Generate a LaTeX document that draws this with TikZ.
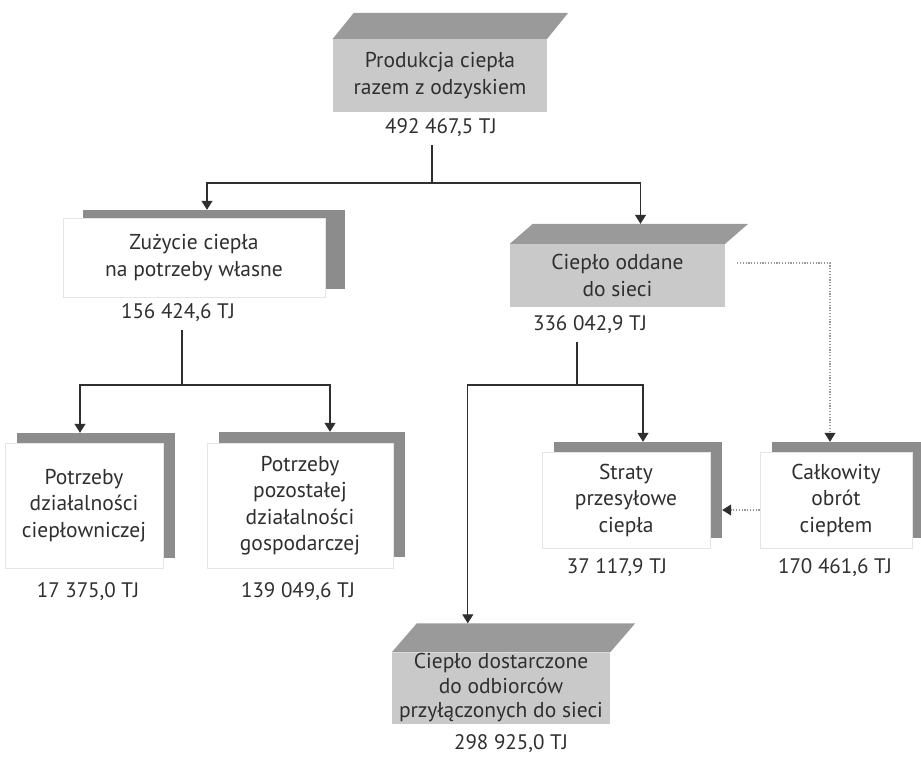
\documentclass[tikz,border=0pt]{standalone}
\usepackage{fontspec}
\setmainfont{PT Sans}
\usetikzlibrary{arrows.meta,calc}
\definecolor{frontgray}{HTML}{C9C9C9}
\definecolor{topgray}{HTML}{9A9A9A}
\definecolor{bargray}{HTML}{8C8C8C}
\definecolor{txt}{HTML}{2F2F2F}
\begin{document}
\begin{tikzpicture}[x=1pt,y=-1pt,
  every node/.style={font=\fontsize{21.5}{26.5}\selectfont, text=txt},
  solidbox/.style={fill=frontgray, inner sep=0pt, align=center},
  whitebox/.style={fill=white, draw=black!10, line width=0.8pt, inner sep=0pt, align=center},
  barbox/.style={fill=bargray, inner sep=0pt},
  value/.style={inner sep=0pt, font=\fontsize{21}{26}\selectfont},
  link/.style={draw=txt, line width=1.1pt},
  arr/.style={link, -{Triangle[width=11pt,length=9pt]}},
  dotarr/.style={draw=gray!80, line width=1.1pt, dash pattern=on 1.2pt off 1.6pt, -{Triangle[width=11pt,length=9pt,fill=txt,color=txt]}}]
\useasboundingbox (0,0) rectangle (921,762);

% ---- 3D boxes ----
\node[solidbox, minimum width=214pt, minimum height=73pt] (B0) at (440,75.5) {Produkcja ciepła\\razem z odzyskiem};
\fill[topgray] (B0.north west) -- (B0.north east) -- ++(21,-26) coordinate (B0tr) -- ($(B0.north west)+(21,-26)$) coordinate (B0tl) -- cycle;

\node[solidbox, minimum width=215pt, minimum height=63pt] (B2) at (617.5,275.5) {Ciepło oddane\\do sieci};
\fill[topgray] (B2.north west) -- (B2.north east) -- ++(23,-20) coordinate (B2tr) -- ($(B2.north west)+(23,-20)$) coordinate (B2tl) -- cycle;

\node[solidbox, minimum width=218pt, minimum height=71pt, font=\fontsize{21.5}{24.5}\selectfont] (B7) at (501,688) {Ciepło dostarczone\\do odbiorców\\przyłączonych do sieci};
\fill[topgray] (B7.north west) -- (B7.north east) -- ++(25,-29) coordinate (B7tr) -- ($(B7.north west)+(25,-29)$) coordinate (B7tl) -- cycle;

% ---- shadowed white boxes ----
\node[barbox, minimum width=262pt, minimum height=79pt] (B1s) at (214,249.5) {};
\node[whitebox, minimum width=262pt, minimum height=79pt] (B1) at (194,257.5) {Zużycie ciepła\\na potrzeby własne};

\node[barbox, minimum width=158pt, minimum height=125pt] (B3s) at (96,495.5) {};
\node[whitebox, minimum width=158pt, minimum height=125pt] (B3) at (84,505.5) {Potrzeby\\działalności\\ciepłowniczej};

\node[barbox, minimum width=186pt, minimum height=125pt] (B4s) at (312,494.5) {};
\node[whitebox, minimum width=186pt, minimum height=125pt] (B4) at (300,505.5) {Potrzeby\\pozostałej\\działalności\\gospodarczej};

\node[barbox, minimum width=168pt, minimum height=96pt] (B5s) at (638,490) {};
\node[whitebox, minimum width=168pt, minimum height=96pt] (B5) at (626,500) {Straty\\przesyłowe\\ciepła};

\node[barbox, minimum width=152pt, minimum height=96pt] (B6s) at (848,490) {};
\node[whitebox, minimum width=152pt, minimum height=96pt] (B6) at (836,500) {Całkowity\\obrót\\ciepłem};

% ---- values ----
\node[value] (v0) at (441,128) {492 467,5 TJ};
\node[value] (v1) at (178,313) {156 424,6 TJ};
\node[value] (v2) at (590,325) {336 042,9 TJ};
\node[value] (v3) at (88,592) {17 375,0 TJ};
\node[value] (v4) at (298,592) {139 049,6 TJ};
\node[value] (v5) at (617,568) {37 117,9 TJ};
\node[value] (v6) at (835,568) {170 461,6 TJ};
\node[value] (v7) at (511,744) {298 925,0 TJ};

% ---- connectors ----
\coordinate (j0) at (432,183);
\coordinate (j1) at (182,385);
\coordinate (j2) at (577,385);
\coordinate (B2top) at ($(B2tl)!0.5!(B2tr)$);
\coordinate (B7in) at ($(B7tl)+(51,0)$);

\draw[link] ([yshift=-8pt]v0.south -| j0) -- (j0);
\draw[arr] (j0) -| ([xshift=-7pt]B1s.north);
\draw[arr] (j0) -| (B2top);

\draw[link] ([yshift=-8pt]v1.south -| j1) -- (j1);
\draw[arr] (j1) -| ([xshift=-16pt]B3s.north);
\draw[arr] (j1) -| ([xshift=18pt]B4s.north);

\draw[link] ([yshift=-8pt]v2.south -| j2) -- (j2);
\draw[arr] (j2) -| ([xshift=5pt]B5s.north);
\draw[arr] (j2) -| (B7in);

\draw[dotarr] ([xshift=12pt,yshift=12.5pt]B2.east) -| ([xshift=-18pt]B6s.north);
\draw[dotarr] ([yshift=-10pt]B6.west) -- ([yshift=-10pt]B6.west -| B5s.east);
\end{tikzpicture}
\end{document}
